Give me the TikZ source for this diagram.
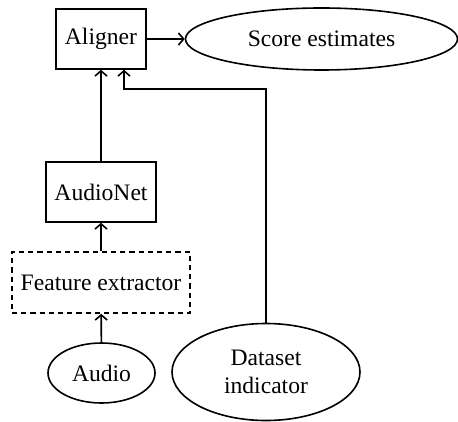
\documentclass[tikz,border=0pt]{standalone}
\usepackage{fontspec}
\setmainfont{Liberation Serif}
\usetikzlibrary{shapes.geometric,calc,arrows.meta}
\begin{document}
\begin{tikzpicture}[x=0.5pt,y=-0.5pt,
  every node/.style={font=\rmfamily\fontsize{11.8}{14}\selectfont, line width=0.8pt, inner sep=0pt, align=center},
  box/.style={draw, rectangle},
  dbox/.style={draw, rectangle, dash pattern=on 2.6pt off 2pt},
  ell/.style={draw, ellipse},
  conn/.style={line width=0.8pt, -{Straight Barb[length=2.6pt,width=6pt,line width=0.8pt]}}]
\useasboundingbox (0,0) rectangle (458,421);
\node[box, minimum width=45pt, minimum height=30pt] (al) at (101,39) {Aligner};
\node[ell, minimum width=136pt, minimum height=31pt] (se) at (321.5,39) {Score estimates};
\node[box, minimum width=55pt, minimum height=30pt] (an) at (101,192) {AudioNet};
\node[dbox, minimum width=89pt, minimum height=30.5pt] (fe) at (101,282.5) {Feature extractor};
\node[ell, minimum width=53.5pt, minimum height=30pt] (au) at (101.5,373) {Audio};
\node[ell, minimum width=94pt, minimum height=48.5pt] (ds) at (266,372) {Dataset\\indicator};
\coordinate (bend) at (124,89);
\draw[conn] (al) -- (se);
\draw[conn] (an) -- (al);
\draw[conn] (fe) -- (an);
\draw[conn] (au) -- (fe);
\draw[conn] (ds.north) |- (bend) -- (bend |- al.south);
\end{tikzpicture}
\end{document}
